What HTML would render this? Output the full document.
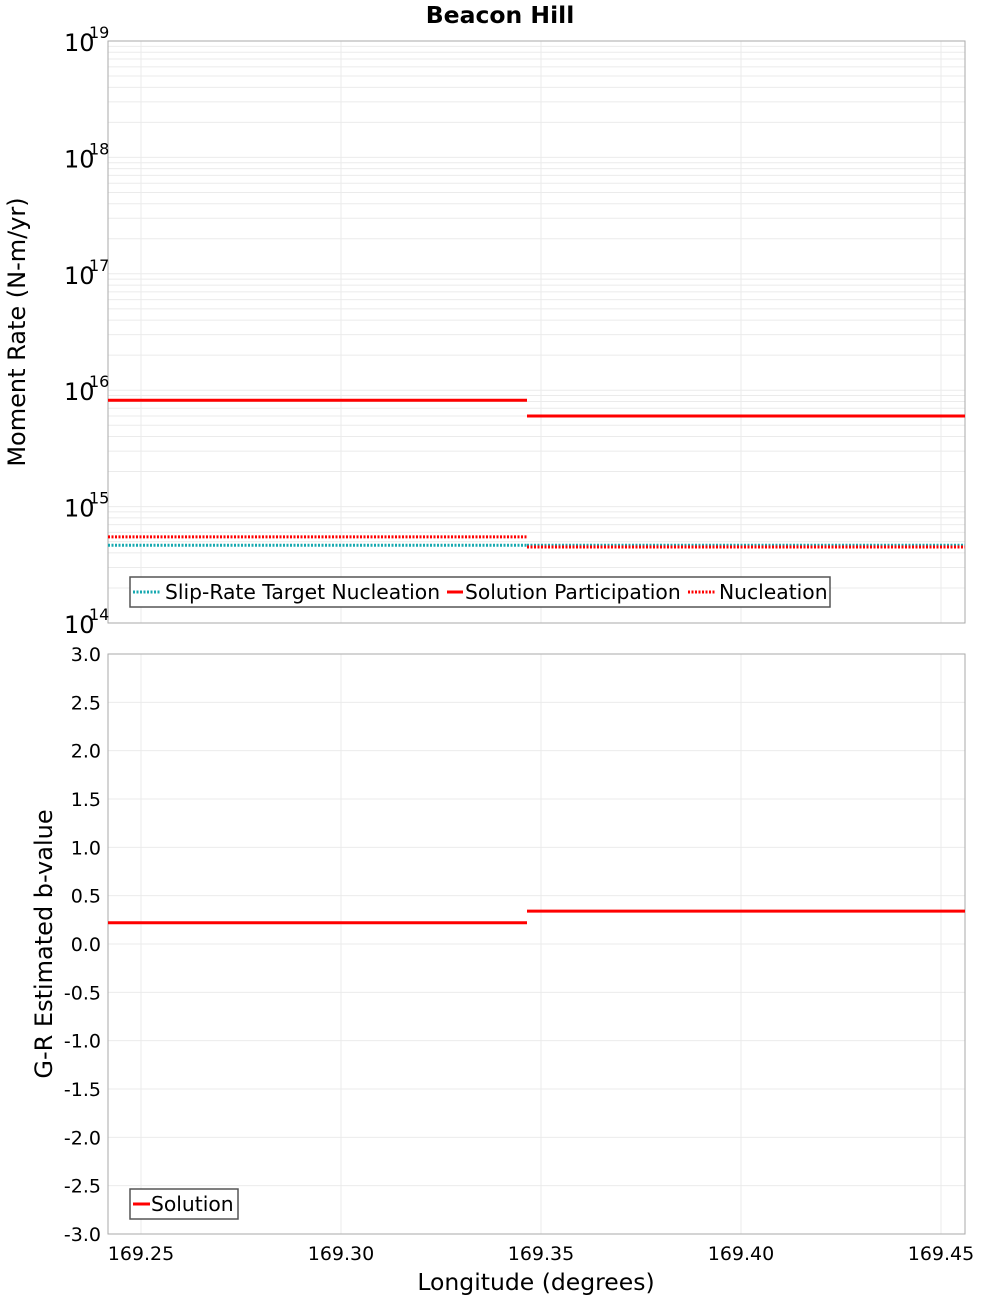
<!DOCTYPE html>
<html><head><meta charset="utf-8"><style>
body{margin:0;background:#fff;font-family:"DejaVu Sans","Liberation Sans",sans-serif;}
svg{display:block}
</style></head><body>
<svg id="c" width="1000" height="1300" xmlns="http://www.w3.org/2000/svg"></svg>
<script>
const xEdges=[169.24175,169.3465,169.456];
const solutionPart=[8.2e15,6.0e15];
const nucleation=[5.5e14,4.5e14];
const slipTarget=[4.65e14,4.65e14];
const bValues=[0.22,0.34];
const xTicks=[169.25,169.30,169.35,169.40,169.45];
const xTickLabels=["169.25","169.30","169.35","169.40","169.45"];
const bTicks=[-3,-2.5,-2,-1.5,-1,-0.5,0,0.5,1,1.5,2,2.5,3];
const logTicks=[14,15,16,17,18,19];

const svg=document.getElementById('c');
const NS='http://www.w3.org/2000/svg';
function mk(tag,attrs,parent){const e=document.createElementNS(NS,tag);for(const k in attrs)e.setAttribute(k,attrs[k]);(parent||svg).appendChild(e);return e;}
const L=108,R=965,T1=41,B1=623,T2=654,B2=1234;
const xs=v=>141+(v-169.25)*4000;
const yTop=v=>B1-(Math.log10(v)-14)*(B1-T1)/5;
const yBot=v=>B2-(v+3)*(B2-T2)/6;

let t=mk('text',{x:500,y:23,'text-anchor':'middle','font-size':23.5,'font-weight':'bold'});
t.textContent='Beacon Hill';

const g1=mk('g',{});
for(let d=14;d<19;d++){for(let m=1;m<10;m++){const y=yTop(m*Math.pow(10,d));mk('line',{x1:L,x2:R,y1:y,y2:y,stroke:'#ebebeb','stroke-width':1},g1);}}
xTicks.forEach(v=>{mk('line',{x1:xs(v),x2:xs(v),y1:T1,y2:B1,stroke:'#ebebeb'},g1);});
mk('rect',{x:L,y:T1,width:R-L,height:B1-T1,fill:'none',stroke:'#aaa'},g1);
logTicks.forEach(d=>{const y=yTop(Math.pow(10,d));
 const tx=mk('text',{x:64,y:y+10,'font-size':24},g1);tx.textContent='10';
 
 const sp=mk('text',{x:89,y:y-3,'font-size':16},g1);sp.textContent=String(d);});
t=mk('text',{x:25,y:332,'text-anchor':'middle','font-size':24,transform:'rotate(-90 25 332)'});
t.textContent='Moment Rate (N-m/yr)';

function steps(arr,yf,color,dash,name,parent){
 for(let i=0;i<arr.length;i++){const y=yf(arr[i]);
  const l=mk('line',{x1:xs(xEdges[i]),x2:xs(xEdges[i+1]),y1:y,y2:y,stroke:color,'stroke-width':3},parent);
  if(dash)l.setAttribute('stroke-dasharray',dash);
  }
}
steps(slipTarget,yTop,'#17a9b0','2,1.5','slip-rate-target',g1);
steps(nucleation,yTop,'#ff0000','2,1.5','nucleation',g1);
steps(solutionPart,yTop,'#ff0000',null,'solution-participation',g1);

const lg=mk('g',{});
mk('rect',{x:130,y:577,width:700,height:30,fill:'#fff',stroke:'#555','stroke-width':1.5},lg);
const items=[[133,'#17a9b0','2,1.5','Slip-Rate Target Nucleation',165],[447,'#ff0000',null,'Solution Participation',465],[688,'#ff0000','2,1.5','Nucleation',719]];
items.forEach(it=>{const l=mk('line',{x1:it[0],x2:it[0]+(it[2]?28:16),y1:592,y2:592,stroke:it[1],'stroke-width':3},lg);if(it[2])l.setAttribute('stroke-dasharray',it[2]);
 const tx=mk('text',{x:it[4],y:599,'font-size':20.3},lg);tx.textContent=it[3];
 });

const g2=mk('g',{});
bTicks.forEach(v=>{const y=yBot(v);mk('line',{x1:L,x2:R,y1:y,y2:y,stroke:'#ebebeb'},g2);
 const tx=mk('text',{x:101,y:y+7,'font-size':19,'text-anchor':'end'},g2);tx.textContent=v.toFixed(1);
 });
xTicks.forEach((v,i)=>{mk('line',{x1:xs(v),x2:xs(v),y1:T2,y2:B2,stroke:'#ebebeb'},g2);
 const tx=mk('text',{x:xs(v),y:1260,'font-size':19,'text-anchor':'middle'},g2);tx.textContent=xTickLabels[i];
 });
mk('rect',{x:L,y:T2,width:R-L,height:B2-T2,fill:'none',stroke:'#aaa'},g2);
steps(bValues,yBot,'#ff0000',null,'b-value',g2);
t=mk('text',{x:52,y:944,'text-anchor':'middle','font-size':24,transform:'rotate(-90 52 944)'});
t.textContent='G-R Estimated b-value';
t=mk('text',{x:536,y:1290,'text-anchor':'middle','font-size':23.5});
t.textContent='Longitude (degrees)';
const lg2=mk('g',{});
mk('rect',{x:130,y:1189,width:108,height:30,fill:'#fff',stroke:'#555','stroke-width':1.5},lg2);
mk('line',{x1:133,x2:150,y1:1204,y2:1204,stroke:'#ff0000','stroke-width':3},lg2);
t=mk('text',{x:151,y:1211,'font-size':20.3},lg2);t.textContent='Solution';

</script>
</body></html>
